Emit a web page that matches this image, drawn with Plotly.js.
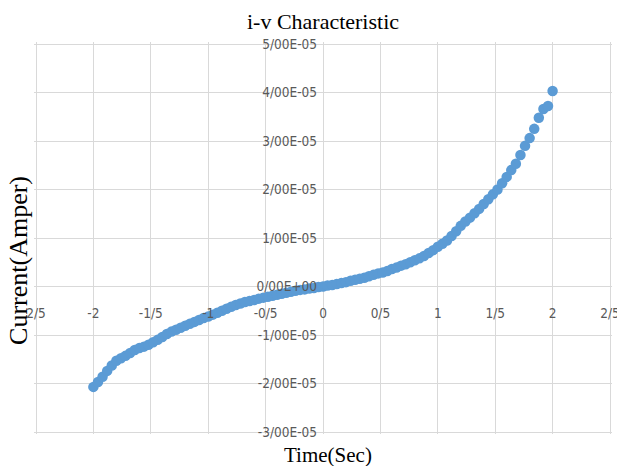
<!DOCTYPE html>
<html>
<head>
<meta charset="utf-8">
<script src="https://cdn.plot.ly/plotly-3.0.1.min.js"></script>
<style>html,body{margin:0;padding:0;background:#fff;}#chart{width:617px;height:466px;}</style>
</head>
<body>
<div id="chart"></div>
<script>
// Time (Sec)
const timeSec = [
 -2.00,-1.96,-1.92,-1.88,-1.84,-1.80,-1.76,-1.72,-1.68,-1.64,
 -1.60,-1.56,-1.52,-1.48,-1.44,-1.40,-1.36,-1.32,-1.28,-1.24,
 -1.20,-1.16,-1.12,-1.08,-1.04,-1.00,-0.96,-0.92,-0.88,-0.84,
 -0.80,-0.76,-0.72,-0.68,-0.64,-0.60,-0.56,-0.52,-0.48,-0.44,
 -0.40,-0.36,-0.32,-0.28,-0.24,-0.20,-0.16,-0.12,-0.08,-0.04,
  0.00, 0.04, 0.08, 0.12, 0.16, 0.20, 0.24, 0.28, 0.32, 0.36,
  0.40, 0.44, 0.48, 0.52, 0.56, 0.60, 0.64, 0.68, 0.72, 0.76,
  0.80, 0.84, 0.88, 0.92, 0.96, 1.00, 1.04, 1.08, 1.12, 1.16,
  1.20, 1.24, 1.28, 1.32, 1.36, 1.40, 1.44, 1.48, 1.52, 1.56,
  1.60, 1.64, 1.68, 1.72, 1.76, 1.80, 1.84, 1.88, 1.92, 1.96, 2.00
];
// Current in units of 1e-5 A
const currentE5 = [
 -2.07,-1.97,-1.86,-1.74,-1.63,-1.53,-1.48,-1.43,-1.37,-1.31,
 -1.27,-1.24,-1.20,-1.15,-1.10,-1.04,-0.98,-0.93,-0.89,-0.85,
 -0.81,-0.77,-0.73,-0.69,-0.65,-0.62,-0.58,-0.54,-0.50,-0.46,
 -0.42,-0.38,-0.35,-0.32,-0.30,-0.28,-0.25,-0.23,-0.21,-0.19,
 -0.17,-0.15,-0.13,-0.11,-0.09,-0.07,-0.06,-0.04,-0.03,-0.01,
  0.00, 0.02, 0.03, 0.05, 0.07, 0.09, 0.12, 0.14, 0.16, 0.18,
  0.21, 0.24, 0.27, 0.29, 0.32, 0.36, 0.39, 0.43, 0.46, 0.50,
  0.54, 0.58, 0.63, 0.69, 0.75, 0.82, 0.88, 0.95, 1.04, 1.14,
  1.25, 1.34, 1.42, 1.51, 1.60, 1.70, 1.80, 1.90, 2.00, 2.13,
  2.26, 2.40, 2.53, 2.71, 2.90, 3.06, 3.25, 3.48, 3.66, 3.72, 4.03
];
const xTickVals = [-2.5,-2,-1.5,-1,-0.5,0,0.5,1,1.5,2,2.5];
const xTickText = ["2/5","-2","-1/5","-1","-0/5","0","0/5","1","1/5","2","2/5"];
const yTickVals = [-3e-5,-2e-5,-1e-5,0,1e-5,2e-5,3e-5,4e-5,5e-5];
const yTickText = ["-3/00E-05","-2/00E-05","-1/00E-05","0/00E+00","1/00E-05","2/00E-05","3/00E-05","4/00E-05","5/00E-05"];

const tickFont = {family: "'Liberation Sans Narrow', 'DejaVu Sans Condensed', sans-serif", size: 13.5, color: "#595959"};
const serif = "'Liberation Serif', 'Times New Roman', serif";

const trace = {
  x: timeSec,
  y: currentE5.map(v => v * 1e-5),
  type: 'scatter',
  mode: 'markers',
  marker: {color: '#5b9bd5', size: 10.5},
  hoverinfo: 'skip',
  cliponaxis: false
};

const layout = {
  width: 617, height: 466,
  margin: {l: 34, r: 5, t: 42, b: 32, pad: 0},
  paper_bgcolor: '#ffffff', plot_bgcolor: '#ffffff',
  showlegend: false,
  title: {text: 'i-v Characteristic', font: {family: serif, size: 22, color: '#000'}, xref: 'paper', x: 0.5, xanchor: 'center', y: 0.955, yanchor: 'middle'},
  xaxis: {
    range: [-2.5174, 2.5174], tickmode: 'array', tickvals: xTickVals, ticktext: xTickText,
    showgrid: true, gridcolor: '#d9d9d9', gridwidth: 1, zeroline: false, showline: false,
    ticks: '', anchor: 'free', position: 0.375, tickfont: tickFont, ticklabelstandoff: 16,
    ticklabeloverflow: 'allow', fixedrange: true
  },
  yaxis: {
    range: [-3.0412e-5, 5.0412e-5], tickmode: 'array', tickvals: yTickVals, ticktext: yTickText,
    showgrid: true, gridcolor: '#d9d9d9', gridwidth: 1, zeroline: false, showline: false,
    ticks: '', anchor: 'free', position: 0.5, tickfont: tickFont, ticklabelstandoff: 6,
    ticklabeloverflow: 'allow', fixedrange: true
  },
  annotations: [
    {text: 'Time(Sec)', xref: 'paper', yref: 'paper', x: 0.508, y: -0.0536, xanchor: 'center', yanchor: 'middle', showarrow: false, font: {family: serif, size: 21, color: '#000'}},
    {text: 'Current(Amper)', xref: 'paper', yref: 'paper', x: -0.026, y: 0.444, xanchor: 'center', yanchor: 'middle', textangle: -90, showarrow: false, font: {family: serif, size: 26, color: '#000'}}
  ]
};

Plotly.newPlot('chart', [trace], layout, {displayModeBar: false, staticPlot: true});
</script>
</body>
</html>
